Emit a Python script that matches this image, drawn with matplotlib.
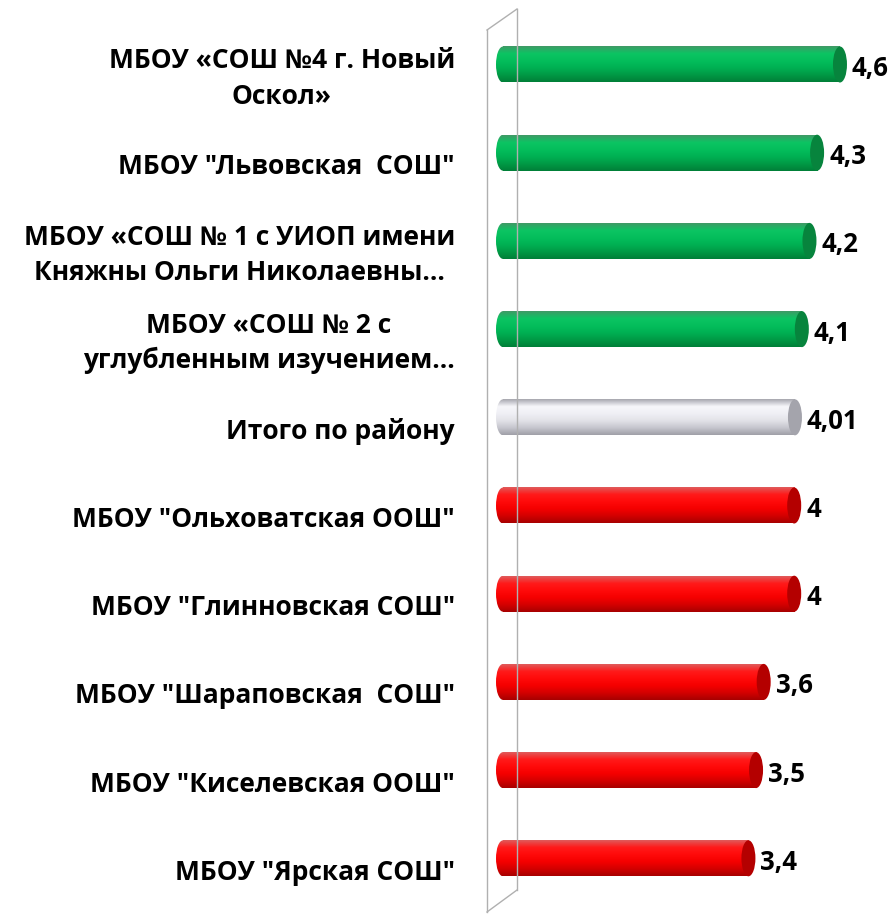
import numpy as np
import matplotlib
matplotlib.use("Agg")
import matplotlib.pyplot as plt
from matplotlib.colors import to_rgba
from matplotlib.patches import Ellipse
from matplotlib.lines import Line2D

plt.rcParams['font.family'] = ['Open Sans', 'DejaVu Sans']

# data
labels = [
    'МБОУ «СОШ №4 г. Новый\nОскол»',
    'МБОУ "Львовская  СОШ"',
    'МБОУ «СОШ № 1 с УИОП имени\nКняжны Ольги Николаевны…',
    'МБОУ «СОШ № 2 с\nуглубленным изучением…',
    'Итого по району',
    'МБОУ "Ольховатская ООШ"',
    'МБОУ "Глинновская СОШ"',
    'МБОУ "Шараповская  СОШ"',
    'МБОУ "Киселевская ООШ"',
    'МБОУ "Ярская СОШ"',
]
values = [4.6, 4.3, 4.2, 4.1, 4.01, 4.0, 4.0, 3.6, 3.5, 3.4]
value_text = ['4,6', '4,3', '4,2', '4,1', '4,01', '4', '4', '3,6', '3,5', '3,4']
groups = ['high', 'high', 'high', 'high', 'total', 'low', 'low', 'low', 'low', 'low']

# cylinder shading, top -> bottom, and the end cap colour
shades = {
    'high': (['#3f9a66', '#0cc463', '#04be5c', '#00b153', '#009a45', '#007f38'], '#07843d'),
    'total': (['#a8a8b0', '#f6f6fa', '#f0f0f5', '#e2e2e8', '#c6c6ce', '#a0a0a8'], '#a4a4ac'),
    'low': (['#e05a5a', '#ff1a1a', '#ff0a0a', '#f50000', '#d40000', '#a80000'], '#b40000'),
}

W, H = 892, 914
fig = plt.figure(figsize=(W / 100, H / 100), dpi=100)

x0_px, scale = 496, 76.3          # pixel of value 0, pixels per unit
ax_left = 480
ax = fig.add_axes([ax_left / W, 0, (W - ax_left) / W, 1])
row0, step = 64.5, 88.2
ax.axis('off')

# 3d back wall
wall = dict(color='#b0b0b0', lw=1.0)
fig.add_artist(Line2D([487 / W, 487 / W], [1 - 30 / H, 1 - 912 / H], **wall))
fig.add_artist(Line2D([487 / W, 517 / W], [1 - 30 / H, 1 - 9 / H], **wall))
fig.add_artist(Line2D([487 / W, 517 / W], [1 - 912 / H, 1 - 890 / H], **wall))
fig.add_artist(Line2D([517 / W, 517 / W], [1 - 9 / H, 1 - 890 / H], **wall))

bar_h = 36 / step
cap_w = 14 / scale


def gradient(cols, n=64):
    stops = np.linspace(0, 1, len(cols))
    rgba = np.array([to_rgba(c) for c in cols])
    t = np.linspace(0, 1, n)
    out = np.stack([np.interp(t, stops, rgba[:, k]) for k in range(4)], axis=1)
    return out[:, None, :]


for i, (v, g) in enumerate(zip(values, groups)):
    cols, cap = shades[g]
    img = gradient(cols)
    top, bot = i - bar_h / 2, i + bar_h / 2
    # body
    ax.imshow(img, extent=[cap_w / 2, v - cap_w / 2, bot, top], aspect='auto',
              interpolation='bilinear', zorder=3)
    # rounded back end
    back = Ellipse((cap_w / 2, i), cap_w, bar_h, facecolor='none', edgecolor='none')
    ax.add_patch(back)
    im = ax.imshow(img, extent=[0, cap_w, bot, top], aspect='auto',
                   interpolation='bilinear', zorder=3)
    im.set_clip_path(back)
    # front cap
    ax.add_patch(Ellipse((v - cap_w / 2, i), cap_w, bar_h, facecolor=cap,
                         edgecolor='none', zorder=4))
    # value label
    ax.annotate(value_text[i], (v, i), textcoords='offset pixels', xytext=(5, -4),
                ha='left', va='center', fontsize=18.5, fontweight='bold',
                color='black', zorder=5)
    # category label
    ax.annotate(labels[i], (0, i), xycoords=ax.get_yaxis_transform(),
                textcoords='offset pixels', xytext=(-25, -14), ha='right',
                va='center', multialignment='center', fontsize=19,
                fontweight='bold', linespacing=1.4, color='black',
                annotation_clip=False)

ax.set_xlim(-(x0_px - ax_left) / scale, (W - x0_px) / scale)
ax.set_ylim((H - row0) / step, -row0 / step)

fig.savefig('out.png', dpi=100, facecolor='white')
